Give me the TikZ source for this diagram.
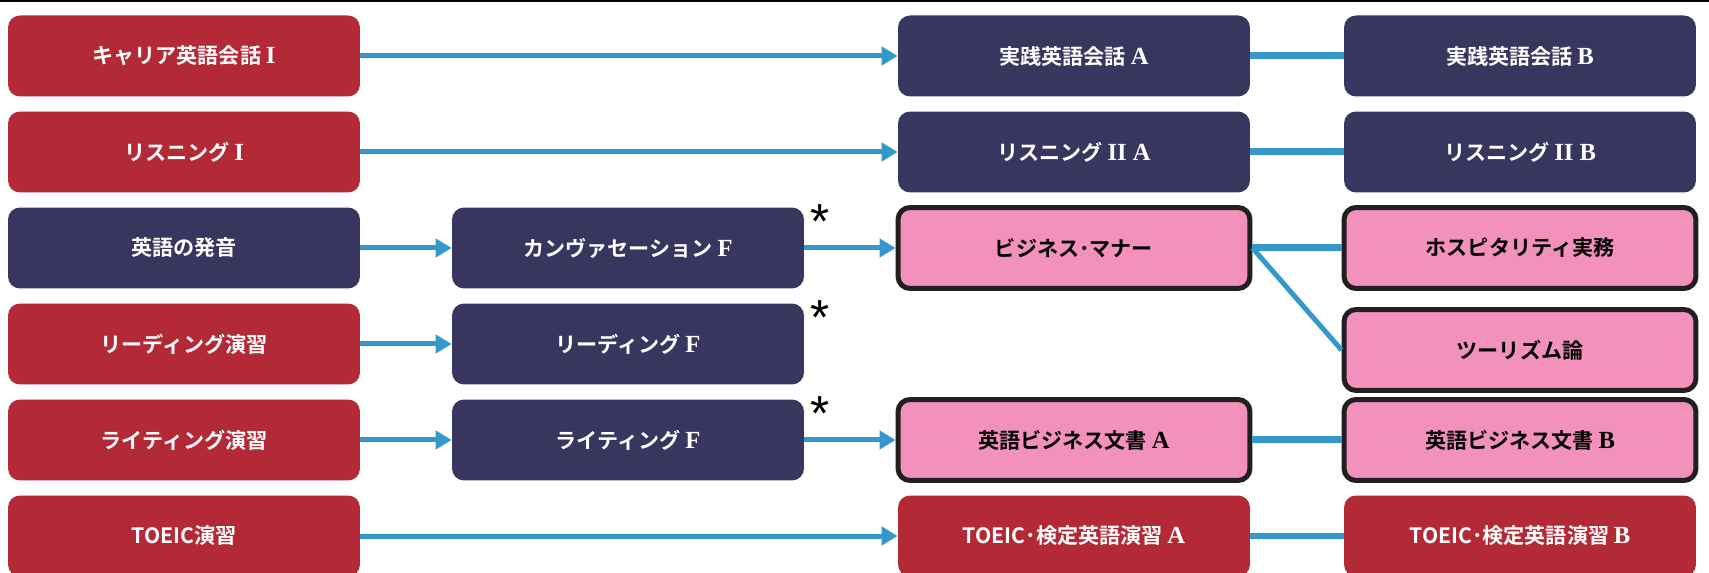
\documentclass[tikz,border=0pt]{standalone}
\usepackage{fontspec}
\setmainfont{Liberation Serif}
\newfontfamily\jpfont{Noto Sans CJK JP Bold}
\newfontfamily\starfont{Liberation Sans}
\usetikzlibrary{arrows.meta}
\definecolor{kred}{HTML}{B32A36}
\definecolor{knavy}{HTML}{38355E}
\definecolor{kpink}{HTML}{F291BB}
\definecolor{kblue}{HTML}{3399CC}
\definecolor{kedge}{HTML}{231F20}
\newcommand{\lat}[1]{{\rmfamily\bfseries\fontsize{14}{14}\selectfont #1}}
\begin{document}
\begin{tikzpicture}[x=0.02cm, y=-0.02cm,
  box/.style={rounded corners=0.24cm, minimum width=7.04cm, minimum height=1.62cm, inner sep=0pt, font=\jpfont\fontsize{12}{14}\selectfont},
  redbox/.style={box, fill=kred, text=white},
  navybox/.style={box, fill=knavy, text=white},
  pinkbox/.style={box, fill=kpink, draw=kedge, line width=0.1cm, text=black},
  arr/.style={kblue, line width=0.1cm, -{Triangle[length=0.32cm, width=0.36cm]}},
  link/.style={kblue, line width=0.14cm},
  starmark/.style={font=\starfont\fontsize{28}{28}\selectfont, inner sep=0pt}]
\useasboundingbox (0,0) rectangle (1709,573);
\draw[line width=0.06cm] (0,1)--(1709,1);

% first column
\node[redbox] (kaiwa1) at (184,56) {キャリア英語会話 \lat{I}};
\node[redbox] (listen1) at (184,152) {リスニング \lat{I}};
\node[navybox] (hatsuon) at (184,248) {英語の発音};
\node[redbox] (readEx) at (184,344) {リーディング演習};
\node[redbox] (writeEx) at (184,440) {ライティング演習};
\node[redbox] (toeic) at (184,536) {TOEIC演習};

% second column
\node[navybox] (convF) at (628,248) {カンヴァセーション \lat{F}};
\node[navybox] (readF) at (628,344) {リーディング \lat{F}};
\node[navybox] (writeF) at (628,440) {ライティング \lat{F}};

% third column
\node[navybox] (kaiwaA) at (1074,56) {実践英語会話 \lat{A}};
\node[navybox] (listenA) at (1074,152) {リスニング \lat{II A}};
\node[pinkbox] (manner) at (1074,248) {ビジネス･マナー};
\node[pinkbox] (bizA) at (1074,440) {英語ビジネス文書 \lat{A}};
\node[redbox] (toeicA) at (1074,536) {TOEIC･検定英語演習 \lat{A}};

% fourth column
\node[navybox] (kaiwaB) at (1520,56) {実践英語会話 \lat{B}};
\node[navybox] (listenB) at (1520,152) {リスニング \lat{II B}};
\node[pinkbox] (hospi) at (1520,248) {ホスピタリティ実務};
\node[pinkbox] (tourism) at (1520,350) {ツーリズム論};
\node[pinkbox] (bizB) at (1520,440) {英語ビジネス文書 \lat{B}};
\node[redbox] (toeicB) at (1520,536) {TOEIC･検定英語演習 \lat{B}};

\node[starmark] (star1) at (820,222) {*};
\node[starmark] (star2) at (820,318) {*};
\node[starmark] (star3) at (820,414) {*};

\draw[arr] (kaiwa1)--(kaiwaA);
\draw[arr] (listen1)--(listenA);
\draw[arr] (hatsuon)--(convF);
\draw[arr] (convF)--(manner);
\draw[arr] (readEx)--(readF);
\draw[arr] (writeEx)--(writeF);
\draw[arr] (writeF)--(bizA);
\draw[arr] (toeic)--(toeicA);

\draw[link] (kaiwaA)--(kaiwaB);
\draw[link] (listenA)--(listenB);
\draw[link] (manner)--(hospi);
\draw[kblue, line width=0.1cm] (manner.east)--(tourism.west);
\draw[link] (bizA)--(bizB);
\draw[link] (toeicA)--(toeicB);
\end{tikzpicture}
\end{document}
